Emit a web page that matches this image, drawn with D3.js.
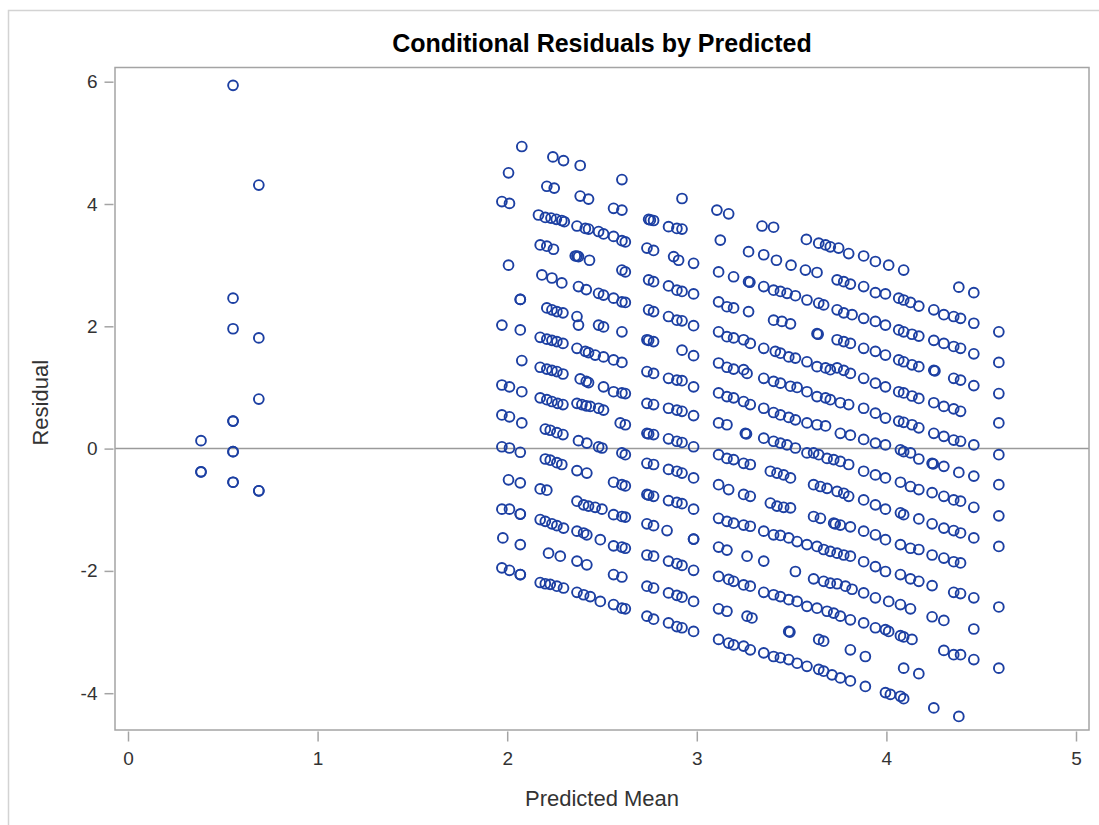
<!DOCTYPE html>
<html>
<head>
<meta charset="utf-8">
<script src="https://cdn.jsdelivr.net/npm/d3@7"></script>
<style>
  html, body { margin: 0; padding: 0; background: #fff; }
  svg { display: block; font-family: "Liberation Sans", Arial, sans-serif; }
</style>
</head>
<body>
<svg id="chart" width="1099" height="825"></svg>
<script>
// Each array holds [predicted mean, conditional residual] pairs,
// grouped by the band of predicted values they fall in.
const predLow = [
  [0.385, 0.13], [0.385, -0.38], [0.385, -0.38],
  [0.554, 5.94], [0.554, 2.46], [0.554, 1.96], [0.554, 0.45], [0.554, 0.45],
  [0.554, -0.05], [0.554, -0.05], [0.554, -0.55], [0.554, -0.55],
  [0.69, 4.31], [0.69, 1.81], [0.69, 0.81], [0.69, -0.69], [0.69, -0.69]
];

const pred2_0 = [
  [2.077, 4.94], [2.007, 4.51], [1.972, 4.04], [2.012, 4.01], [2.007, 3.00],
  [2.069, 2.44], [2.069, 2.44], [1.972, 2.02], [2.069, 1.94], [2.077, 1.44],
  [1.972, 1.04], [2.012, 1.01], [2.077, 0.93], [1.972, 0.55], [2.012, 0.52],
  [2.077, 0.42], [1.972, 0.03], [2.012, 0.01], [2.069, -0.06], [2.007, -0.51],
  [2.069, -0.56], [1.972, -0.99], [2.012, -0.99], [2.069, -1.07], [2.069, -1.07],
  [1.977, -1.46], [2.069, -1.57], [1.972, -1.95], [2.012, -1.99], [2.069, -2.06],
  [2.069, -2.06]
];

const pred2_2 = [
  [2.241, 4.77], [2.297, 4.71],
  [2.209, 4.29], [2.248, 4.26],
  [2.165, 3.82], [2.201, 3.78], [2.231, 3.77], [2.259, 3.75], [2.288, 3.73], [2.301, 3.71],
  [2.174, 3.33], [2.209, 3.31], [2.244, 3.26],
  [2.183, 2.84], [2.236, 2.79], [2.288, 2.71],
  [2.209, 2.30], [2.236, 2.27], [2.262, 2.24], [2.294, 2.22],
  [2.174, 1.82], [2.209, 1.79], [2.236, 1.77], [2.262, 1.75], [2.294, 1.72],
  [2.174, 1.33], [2.209, 1.30], [2.236, 1.28], [2.262, 1.26], [2.294, 1.22],
  [2.174, 0.83], [2.209, 0.80], [2.236, 0.77], [2.266, 0.74], [2.294, 0.72],
  [2.201, 0.32], [2.227, 0.30], [2.262, 0.26], [2.294, 0.23],
  [2.201, -0.17], [2.227, -0.19], [2.262, -0.23], [2.288, -0.26],
  [2.174, -0.66], [2.209, -0.68],
  [2.174, -1.16], [2.201, -1.19], [2.236, -1.23], [2.262, -1.26], [2.297, -1.30],
  [2.218, -1.71], [2.280, -1.76],
  [2.174, -2.19], [2.201, -2.21], [2.227, -2.22], [2.262, -2.25], [2.297, -2.28]
];

const pred2_4 = [
  [2.385, 4.63],
  [2.385, 4.13], [2.429, 4.08],
  [2.368, 3.64], [2.412, 3.60], [2.429, 3.59],
  [2.359, 3.15], [2.368, 3.15], [2.376, 3.14], [2.434, 3.08],
  [2.376, 2.65], [2.417, 2.60],
  [2.368, 2.16], [2.376, 2.02],
  [2.368, 1.64], [2.412, 1.59], [2.429, 1.57],
  [2.385, 1.14], [2.417, 1.10], [2.429, 1.08],
  [2.368, 0.74], [2.394, 0.72], [2.417, 0.70], [2.438, 0.69],
  [2.376, 0.13], [2.420, 0.09],
  [2.368, -0.36], [2.420, -0.40],
  [2.368, -0.86], [2.403, -0.92], [2.429, -0.94],
  [2.368, -1.35], [2.403, -1.38], [2.420, -1.41],
  [2.368, -1.84], [2.420, -1.90],
  [2.368, -2.35], [2.403, -2.39], [2.438, -2.42]
];

const pred2_55 = [
  [2.605, 4.40],
  [2.561, 3.93], [2.605, 3.90],
  [2.482, 3.55], [2.508, 3.51], [2.561, 3.47], [2.605, 3.40], [2.623, 3.38],
  [2.605, 2.92], [2.623, 2.89],
  [2.482, 2.54], [2.508, 2.51], [2.561, 2.46], [2.605, 2.40], [2.623, 2.39],
  [2.482, 2.02], [2.508, 1.99], [2.605, 1.91],
  [2.464, 1.53], [2.508, 1.50], [2.561, 1.45], [2.605, 1.41],
  [2.508, 1.01], [2.561, 0.93], [2.605, 0.91], [2.623, 0.90],
  [2.482, 0.66], [2.508, 0.63], [2.596, 0.42], [2.623, 0.39],
  [2.482, 0.03], [2.500, 0.01], [2.605, -0.07], [2.623, -0.10],
  [2.561, -0.55], [2.605, -0.59], [2.623, -0.61],
  [2.464, -0.96], [2.500, -0.99], [2.561, -1.08], [2.605, -1.11], [2.623, -1.12],
  [2.491, -1.49], [2.561, -1.59], [2.605, -1.61], [2.623, -1.63],
  [2.561, -2.06], [2.605, -2.10],
  [2.491, -2.50], [2.561, -2.55], [2.605, -2.61], [2.623, -2.62]
];

const pred2_85 = [
  [2.922, 4.09],
  [2.746, 3.75], [2.755, 3.74], [2.772, 3.73], [2.851, 3.63], [2.895, 3.60], [2.922, 3.59],
  [2.737, 3.28], [2.772, 3.24], [2.878, 3.14], [2.904, 3.08], [2.983, 3.03],
  [2.746, 2.76], [2.772, 2.73], [2.851, 2.66], [2.895, 2.59], [2.922, 2.57], [2.983, 2.53],
  [2.746, 2.27], [2.772, 2.24], [2.851, 2.16], [2.895, 2.10], [2.922, 2.09], [2.983, 2.01],
  [2.737, 1.78], [2.746, 1.77], [2.772, 1.75], [2.922, 1.61], [2.983, 1.52],
  [2.737, 1.26], [2.772, 1.23], [2.851, 1.15], [2.895, 1.12], [2.922, 1.11], [2.983, 1.01],
  [2.737, 0.74], [2.772, 0.72], [2.851, 0.66], [2.895, 0.63], [2.922, 0.61], [2.983, 0.54],
  [2.737, 0.25], [2.746, 0.24], [2.772, 0.23], [2.851, 0.16], [2.895, 0.12], [2.922, 0.10], [2.983, 0.03],
  [2.737, -0.24], [2.772, -0.26], [2.851, -0.34], [2.895, -0.37], [2.922, -0.40], [2.983, -0.48],
  [2.737, -0.75], [2.746, -0.76], [2.772, -0.78], [2.851, -0.85], [2.895, -0.88], [2.922, -0.90], [2.983, -0.99],
  [2.737, -1.23], [2.772, -1.26], [2.843, -1.34], [2.983, -1.48], [2.983, -1.48],
  [2.737, -1.74], [2.772, -1.76], [2.851, -1.84], [2.895, -1.88], [2.922, -1.91], [2.983, -1.99],
  [2.737, -2.25], [2.772, -2.28], [2.851, -2.36], [2.895, -2.40], [2.922, -2.43], [2.983, -2.50],
  [2.737, -2.74], [2.772, -2.79], [2.851, -2.85], [2.895, -2.91], [2.922, -2.93], [2.983, -2.99]
];

const pred3_15 = [
  [3.106, 3.90], [3.168, 3.84],
  [3.124, 3.41],
  [3.115, 2.89], [3.194, 2.81],
  [3.115, 2.40], [3.159, 2.32], [3.194, 2.30],
  [3.115, 1.91], [3.159, 1.83], [3.194, 1.81],
  [3.115, 1.40], [3.159, 1.33], [3.194, 1.30],
  [3.115, 0.91], [3.159, 0.85], [3.194, 0.83],
  [3.115, 0.42], [3.159, 0.39],
  [3.115, -0.10], [3.159, -0.16], [3.194, -0.18],
  [3.115, -0.59], [3.168, -0.67],
  [3.115, -1.14], [3.159, -1.19], [3.194, -1.22],
  [3.115, -1.61], [3.159, -1.66],
  [3.115, -2.09], [3.168, -2.14], [3.194, -2.17],
  [3.115, -2.62], [3.159, -2.66],
  [3.115, -3.12], [3.168, -3.18], [3.194, -3.21]
];

const pred3_6 = [
  [3.344, 3.64], [3.405, 3.62],
  [3.578, 3.42], [3.643, 3.36], [3.679, 3.33], [3.704, 3.30], [3.748, 3.28], [3.801, 3.19], [3.880, 3.15], [3.942, 3.06],
  [3.273, 3.22], [3.353, 3.17], [3.420, 3.08], [3.497, 3.00], [3.573, 2.92], [3.634, 2.88],
  [3.740, 2.76], [3.775, 2.73], [3.810, 2.69], [3.880, 2.65], [3.942, 2.55],
  [3.273, 2.73], [3.280, 2.72], [3.353, 2.65], [3.405, 2.59], [3.441, 2.57], [3.476, 2.54], [3.520, 2.50],
  [3.581, 2.43], [3.643, 2.38], [3.669, 2.35],
  [3.740, 2.27], [3.775, 2.22], [3.819, 2.19], [3.880, 2.13], [3.942, 2.08],
  [3.273, 2.24], [3.405, 2.10], [3.449, 2.08], [3.494, 2.04], [3.634, 1.88], [3.640, 1.87],
  [3.740, 1.78], [3.775, 1.75], [3.810, 1.72], [3.880, 1.64], [3.942, 1.59],
  [3.247, 1.78], [3.282, 1.72], [3.353, 1.64], [3.414, 1.59], [3.441, 1.56], [3.485, 1.50], [3.520, 1.48],
  [3.581, 1.42], [3.634, 1.34], [3.679, 1.32], [3.704, 1.29],
  [3.740, 1.32], [3.775, 1.28], [3.810, 1.23], [3.880, 1.15], [3.942, 1.07],
  [3.247, 1.29], [3.265, 1.23], [3.353, 1.15], [3.405, 1.10], [3.441, 1.07], [3.494, 1.02], [3.529, 1.00],
  [3.581, 0.93], [3.634, 0.85], [3.679, 0.83], [3.704, 0.80], [3.757, 0.75], [3.801, 0.72], [3.880, 0.66], [3.942, 0.58],
  [3.247, 0.77], [3.282, 0.72], [3.353, 0.66], [3.405, 0.59], [3.441, 0.55], [3.485, 0.51], [3.520, 0.47],
  [3.581, 0.42], [3.634, 0.39], [3.679, 0.37], [3.757, 0.25], [3.810, 0.22], [3.880, 0.15], [3.942, 0.09],
  [3.256, 0.25], [3.262, 0.24], [3.353, 0.17], [3.405, 0.12], [3.441, 0.09], [3.476, 0.06], [3.520, 0.01], [3.581, -0.07],
  [3.616, -0.07], [3.643, -0.10], [3.687, -0.16], [3.722, -0.18], [3.757, -0.21], [3.801, -0.26], [3.880, -0.37], [3.942, -0.43],
  [3.247, -0.24], [3.282, -0.26], [3.388, -0.37], [3.423, -0.40], [3.458, -0.43], [3.494, -0.48],
  [3.616, -0.59], [3.652, -0.62], [3.687, -0.65], [3.740, -0.70], [3.775, -0.73], [3.801, -0.78], [3.880, -0.84], [3.942, -0.92],
  [3.247, -0.75], [3.282, -0.78], [3.388, -0.89], [3.423, -0.94], [3.458, -0.96], [3.494, -0.97],
  [3.616, -1.11], [3.652, -1.14], [3.722, -1.22], [3.730, -1.23], [3.757, -1.25], [3.810, -1.28], [3.880, -1.35], [3.942, -1.41],
  [3.247, -1.25], [3.282, -1.27], [3.353, -1.35], [3.405, -1.41], [3.441, -1.42], [3.485, -1.46], [3.529, -1.52], [3.581, -1.57],
  [3.634, -1.60], [3.669, -1.65], [3.704, -1.68], [3.740, -1.71], [3.775, -1.74], [3.810, -1.76], [3.880, -1.85], [3.942, -1.93],
  [3.265, -1.76], [3.353, -1.84], [3.520, -2.01],
  [3.616, -2.13], [3.669, -2.17], [3.704, -2.20], [3.740, -2.21], [3.784, -2.25], [3.819, -2.30], [3.880, -2.36], [3.942, -2.44],
  [3.247, -2.23], [3.282, -2.25], [3.353, -2.35], [3.405, -2.39], [3.441, -2.42], [3.485, -2.47], [3.529, -2.50], [3.581, -2.58],
  [3.634, -2.61], [3.687, -2.66], [3.722, -2.69], [3.757, -2.74], [3.810, -2.80], [3.880, -2.85], [3.942, -2.93],
  [3.265, -2.74], [3.291, -2.77], [3.485, -2.99], [3.491, -3.00],
  [3.643, -3.12], [3.669, -3.15], [3.810, -3.29], [3.889, -3.40],
  [3.247, -3.23], [3.282, -3.29], [3.353, -3.34], [3.405, -3.40], [3.441, -3.42], [3.485, -3.45], [3.529, -3.51],
  [3.581, -3.56], [3.643, -3.61], [3.669, -3.64], [3.713, -3.70], [3.757, -3.75], [3.810, -3.80], [3.889, -3.89]
];

const pred4_1 = [
  [4.012, 3.00], [4.091, 2.92],
  [3.995, 2.53], [4.065, 2.46], [4.091, 2.43], [4.127, 2.39], [4.171, 2.33],
  [3.995, 2.02], [4.065, 1.94], [4.091, 1.91], [4.135, 1.87], [4.171, 1.84],
  [3.995, 1.53], [4.065, 1.45], [4.091, 1.42], [4.135, 1.37], [4.171, 1.34],
  [3.995, 1.01], [4.065, 0.93], [4.091, 0.91], [4.135, 0.86], [4.171, 0.82],
  [3.995, 0.50], [4.065, 0.45], [4.091, 0.43], [4.135, 0.39], [4.171, 0.34],
  [3.995, 0.06], [4.074, -0.02], [4.091, -0.05], [4.127, -0.07], [4.171, -0.17],
  [3.995, -0.48], [4.074, -0.55], [4.127, -0.62], [4.171, -0.67],
  [3.995, -0.99], [4.074, -1.05], [4.091, -1.08], [4.171, -1.15],
  [3.995, -1.49], [4.074, -1.57], [4.127, -1.63], [4.171, -1.65],
  [3.995, -2.01], [4.074, -2.06], [4.127, -2.13], [4.171, -2.17],
  [4.012, -2.50], [4.074, -2.55], [4.127, -2.62],
  [3.995, -2.96], [4.012, -2.99], [4.074, -3.06], [4.091, -3.08], [4.135, -3.12],
  [4.091, -3.59], [4.171, -3.68],
  [3.995, -3.99], [4.021, -4.02], [4.074, -4.05], [4.091, -4.09]
];

const pred4_35 = [
  [4.382, 2.64], [4.461, 2.55],
  [4.250, 2.27], [4.303, 2.19], [4.355, 2.16], [4.391, 2.13], [4.461, 2.05],
  [4.250, 1.77], [4.303, 1.72], [4.355, 1.67], [4.391, 1.64], [4.461, 1.55],
  [4.250, 1.28], [4.256, 1.27], [4.355, 1.15], [4.391, 1.12], [4.461, 1.03],
  [4.250, 0.75], [4.303, 0.69], [4.355, 0.65], [4.391, 0.61],
  [4.250, 0.25], [4.303, 0.20], [4.355, 0.14], [4.391, 0.12], [4.461, 0.06],
  [4.241, -0.24], [4.247, -0.25], [4.303, -0.29], [4.382, -0.39], [4.461, -0.45],
  [4.241, -0.72], [4.303, -0.78], [4.355, -0.84], [4.391, -0.86], [4.461, -0.96],
  [4.241, -1.23], [4.303, -1.30], [4.355, -1.34], [4.391, -1.38], [4.461, -1.46],
  [4.241, -1.74], [4.303, -1.79], [4.355, -1.85], [4.391, -1.87],
  [4.241, -2.24], [4.355, -2.35], [4.391, -2.37], [4.461, -2.44],
  [4.241, -2.75], [4.303, -2.81], [4.461, -2.95],
  [4.303, -3.30], [4.355, -3.37], [4.391, -3.37], [4.461, -3.45],
  [4.250, -4.24], [4.382, -4.38]
];

const pred4_6 = [
  [4.593, 1.91], [4.593, 1.41], [4.593, 0.90], [4.593, 0.42], [4.593, -0.10],
  [4.593, -0.59], [4.593, -1.10], [4.593, -1.60], [4.593, -2.59], [4.593, -3.59]
];

const xTicks = [0, 1, 2, 3, 4, 5];
const yTicks = [-4, -2, 0, 2, 4, 6];
const titleText = "Conditional Residuals by Predicted";
const xLabel = "Predicted Mean";
const yLabel = "Residual";

const points = [].concat(predLow, pred2_0, pred2_2, pred2_4, pred2_55, pred2_85,
                         pred3_15, pred3_6, pred4_1, pred4_35, pred4_6);

// Plot frame in pixels; the axes are inset slightly from the frame edges.
const frame = { left: 115, right: 1089, top: 67.5, bottom: 730 };

const x = d3.scaleLinear().domain([0, 5]).range([128, 1076]);
const y = d3.scaleLinear().domain([-4, 6]).range([693.2, 81.7]);

const svg = d3.select("#chart");

// Outer light border of the graph area
svg.append("rect")
  .attr("x", 8.5).attr("y", 10.5)
  .attr("width", 1110).attr("height", 840)
  .attr("fill", "#fff")
  .attr("stroke", "#d3d3d3")
  .attr("stroke-width", 1.5);

svg.append("text")
  .attr("x", (frame.left + frame.right) / 2)
  .attr("y", 52)
  .attr("text-anchor", "middle")
  .attr("font-size", 25)
  .attr("font-weight", "bold")
  .attr("fill", "#000")
  .text(titleText);

// Reference line at zero residual
svg.append("line")
  .attr("x1", frame.left).attr("x2", frame.right)
  .attr("y1", y(0)).attr("y2", y(0))
  .attr("stroke", "#9a9a9a")
  .attr("stroke-width", 1.5);

svg.append("g")
  .attr("fill", "none")
  .attr("stroke", "#1c3fa2")
  .attr("stroke-width", 1.9)
  .selectAll("circle")
  .data(points)
  .join("circle")
  .attr("cx", d => x(d[0]))
  .attr("cy", d => y(d[1]))
  .attr("r", 4.9);

// Frame drawn over the marks
svg.append("rect")
  .attr("x", frame.left).attr("y", frame.top)
  .attr("width", frame.right - frame.left)
  .attr("height", frame.bottom - frame.top)
  .attr("fill", "none")
  .attr("stroke", "#a4a4a4")
  .attr("stroke-width", 1.5);

const xAxis = svg.append("g")
  .attr("transform", `translate(0,${frame.bottom + 1.5})`)
  .call(d3.axisBottom(x).tickValues(xTicks).tickFormat(d => String(d)).tickSize(10).tickPadding(10));

const yAxis = svg.append("g")
  .attr("transform", `translate(${frame.left - 1.5},0)`)
  .call(d3.axisLeft(y).tickValues(yTicks).tickFormat(d => String(d)).tickSize(9).tickPadding(7));

[xAxis, yAxis].forEach(g => {
  g.select(".domain").remove();
  g.selectAll(".tick line").attr("stroke", "#a4a4a4").attr("stroke-width", 1.5);
  g.selectAll(".tick text")
    .attr("font-family", "'Liberation Sans', Arial, sans-serif")
    .attr("font-size", 19)
    .attr("fill", "#333");
});

svg.append("text")
  .attr("x", (frame.left + frame.right) / 2)
  .attr("y", 806)
  .attr("text-anchor", "middle")
  .attr("font-size", 22)
  .attr("fill", "#333")
  .text(xLabel);

svg.append("text")
  .attr("transform", `translate(48,${(frame.top + frame.bottom) / 2 + 4}) rotate(-90)`)
  .attr("text-anchor", "middle")
  .attr("font-size", 22)
  .attr("fill", "#333")
  .text(yLabel);
</script>
</body>
</html>
